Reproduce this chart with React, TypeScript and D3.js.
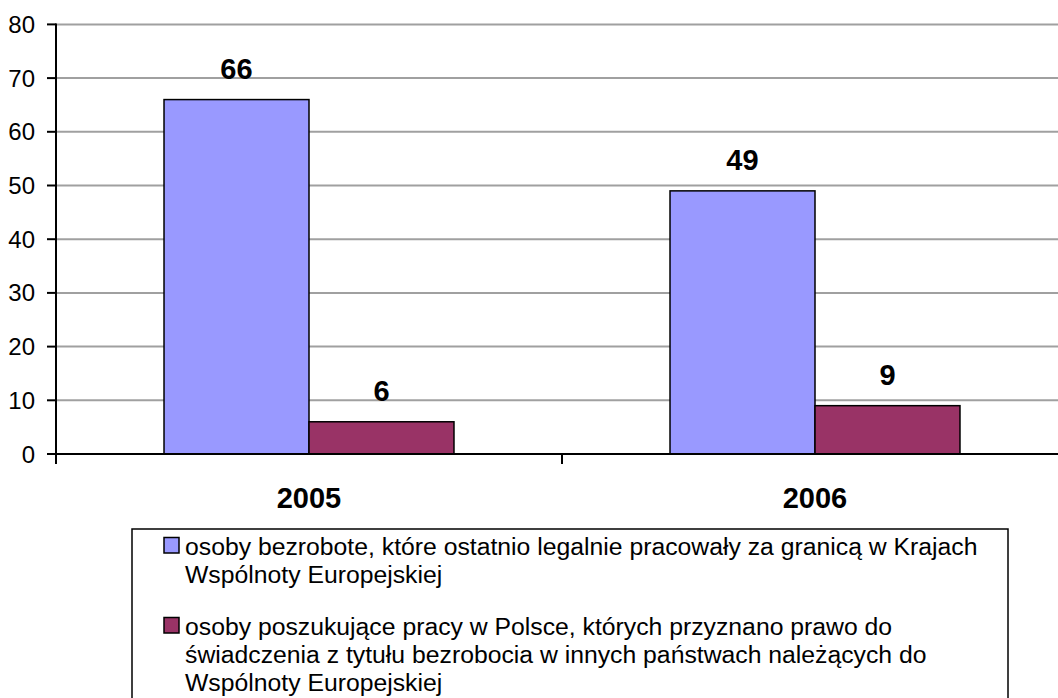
import React from "react";
import * as d3 from "d3";

const categories = ["2005", "2006"];
const seriesNames = [
  "osoby bezrobote, które ostatnio legalnie pracowały za granicą w Krajach Wspólnoty Europejskiej",
  "osoby poszukujące pracy w Polsce, których przyznano prawo do świadczenia z tytułu bezrobocia w innych państwach należących do Wspólnoty Europejskiej",
];
const legendLines = [
  ["osoby bezrobote, które ostatnio legalnie pracowały za granicą w Krajach", "Wspólnoty Europejskiej"],
  [
    "osoby poszukujące pracy w Polsce, których przyznano prawo do",
    "świadczenia z tytułu bezrobocia w innych państwach należących do",
    "Wspólnoty Europejskiej",
  ],
];
const seriesA = [66, 49];
const seriesB = [6, 9];
const yTicks = [0, 10, 20, 30, 40, 50, 60, 70, 80];
const colors = ["#9999FF", "#993366"];

const W = 1058;
const H = 698;
const FONT = "'Liberation Sans', Arial, sans-serif";

export default function App() {
  const left = 56;
  const right = 1068;
  const top = 24.4;
  const bottom = 454;
  const y = d3.scaleLinear().domain([0, 80]).range([bottom, top]);
  const x0 = d3.scaleBand<string>().domain(categories).range([left, right]).padding(0);
  const x1 = d3
    .scaleBand<number>()
    .domain([0, 1])
    .range([0, x0.bandwidth()])
    .paddingInner(0)
    .paddingOuter(0.745);
  const series = [seriesA, seriesB];

  return (
    <svg
      width={W}
      height={H}
      style={{ position: "absolute", left: 0, top: 0, background: "#fff" }}
      fontFamily={FONT}
    >
      <rect x={0} y={0} width={W} height={H} fill="#fff" />
      {yTicks.filter((t) => t > 0).map((t) => (
        <line key={t} x1={left} x2={W} y1={y(t)} y2={y(t)} stroke="#a0a0a0" strokeWidth={2} />
      ))}
      {categories.map((c, ci) =>
        series.map((s, si) => (
          <rect
            key={c + si}
            x={(x0(c) as number) + (x1(si) as number)}
            y={y(s[ci])}
            width={x1.bandwidth()}
            height={bottom - y(s[ci])}
            fill={colors[si]}
            stroke="#000"
            strokeWidth={1.5}
          />
        ))
      )}
      {categories.map((c, ci) =>
        series.map((s, si) => (
          <text
            key={"v" + c + si}
            x={(x0(c) as number) + (x1(si) as number) + x1.bandwidth() / 2}
            y={y(s[ci]) - 21}
            textAnchor="middle"
            fontWeight="bold"
            fontSize={29}
            fill="#000"
          >
            {s[ci]}
          </text>
        ))
      )}
      <line x1={left} x2={left} y1={top - 1} y2={bottom + 10} stroke="#000" strokeWidth={2} />
      {yTicks.map((t) => (
        <g key={"yt" + t}>
          <line x1={left - 9} x2={left} y1={y(t)} y2={y(t)} stroke="#000" strokeWidth={2} />
          <text x={35} y={y(t) + 8.5} textAnchor="end" fontSize={24} fill="#000">
            {t}
          </text>
        </g>
      ))}
      <line x1={left} x2={W} y1={bottom} y2={bottom} stroke="#000" strokeWidth={2} />
      {categories.map((c) => (
        <line
          key={"xt" + c}
          x1={x0(c) as number}
          x2={x0(c) as number}
          y1={bottom}
          y2={bottom + 10}
          stroke="#000"
          strokeWidth={2}
        />
      ))}
      {categories.map((c) => (
        <text
          key={"xl" + c}
          x={(x0(c) as number) + x0.bandwidth() / 2}
          y={508}
          textAnchor="middle"
          fontWeight="bold"
          fontSize={29}
          fill="#000"
        >
          {c}
        </text>
      ))}
      <rect x={132} y={529} width={876} height={200} fill="#fff" stroke="#000" strokeWidth={1.5} />
      {seriesNames.map((name, i) => {
        const baseY = i === 0 ? 555 : 635;
        return (
          <g key={"lg" + i}>
            <title>{name}</title>
            <rect
              x={164}
              y={baseY - 17.5}
              width={15}
              height={15.5}
              fill={colors[i]}
              stroke="#000"
              strokeWidth={1.5}
            />
            {legendLines[i].map((ln, li) => (
              <text key={li} x={185} y={baseY + li * 28} fontSize={24.75} fill="#000">
                {ln}
              </text>
            ))}
          </g>
        );
      })}
    </svg>
  );
}
